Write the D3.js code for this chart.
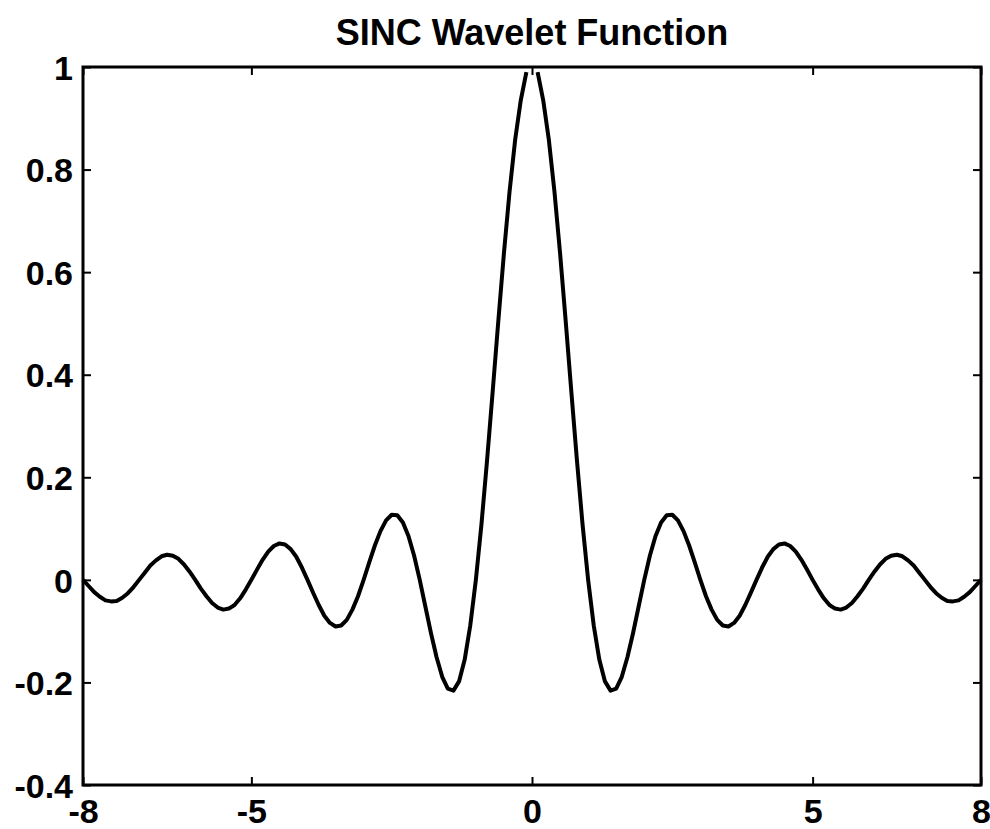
<!DOCTYPE html>
<html>

<head>
  <meta charset="utf-8">
  <script src="https://d3js.org/d3.v7.min.js"></script>
  <style>
    body { margin: 0; background: #fff; }
    text { font-family: "Liberation Sans", Arial, sans-serif; font-weight: bold; fill: #000; }
  </style>
</head>

<body>

  <div id="chart"></div>

  <script>
    const width = 990;
    const height = 829;
    const margin = { top: 67, right: 9, bottom: 44, left: 83 };

    const title = "SINC Wavelet Function";
    const xTicks = [-8, -5, 0, 5, 8];
    const yTicks = [-0.4, -0.2, 0, 0.2, 0.4, 0.6, 0.8, 1];

    // x runs from -8 to 8 in steps of 0.1 (gap at 0)
    const xStart = -8, xStep = 0.1;
    const yValues = [
      0, -0.012, -0.024, -0.033, -0.040, -0.042, -0.041, -0.035, -0.026, -0.014,
      0, 0.014, 0.028, 0.038, 0.046, 0.049, 0.047, 0.041, 0.030, 0.016,
      0, -0.017, -0.032, -0.045, -0.054, -0.058, -0.056, -0.049, -0.036, -0.019,
      0, 0.020, 0.039, 0.055, 0.066, 0.071, 0.069, 0.060, 0.045, 0.024,
      0, -0.025, -0.049, -0.070, -0.084, -0.091, -0.089, -0.078, -0.058, -0.032,
      0, 0.034, 0.067, 0.095, 0.116, 0.127, 0.126, 0.112, 0.085, 0.047,
      0, -0.052, -0.104, -0.151, -0.189, -0.212, -0.216, -0.198, -0.156, -0.089,
      0, 0.109, 0.234, 0.368, 0.505, 0.637, 0.757, 0.858, 0.935, 0.990,
      null,
      0.990, 0.935, 0.858, 0.757, 0.637, 0.505, 0.368, 0.234, 0.109, 0,
      -0.089, -0.156, -0.198, -0.216, -0.212, -0.189, -0.151, -0.104, -0.052, 0,
      0.047, 0.085, 0.112, 0.126, 0.127, 0.116, 0.095, 0.067, 0.034, 0,
      -0.032, -0.058, -0.078, -0.089, -0.091, -0.084, -0.070, -0.049, -0.025, 0,
      0.024, 0.045, 0.060, 0.069, 0.071, 0.066, 0.055, 0.039, 0.020, 0,
      -0.019, -0.036, -0.049, -0.056, -0.058, -0.054, -0.045, -0.032, -0.017, 0,
      0.016, 0.030, 0.041, 0.047, 0.049, 0.046, 0.038, 0.028, 0.014, 0,
      -0.014, -0.026, -0.035, -0.041, -0.042, -0.040, -0.033, -0.024, -0.012, 0
    ];

    const data = yValues.map((v, i) => ({ x: xStart + i * xStep, y: v }));

    const svg = d3.select("#chart")
      .append("svg")
      .attr("width", width)
      .attr("height", height);

    const x = d3.scaleLinear().domain([-8, 8]).range([margin.left, width - margin.right]);
    const y = d3.scaleLinear().domain([-0.4, 1]).range([height - margin.bottom, margin.top]);

    // plain hyphen for negatives, like the original
    const fmt = d => String(+d.toFixed(1));

    // title
    svg.append("text")
      .attr("x", (margin.left + width - margin.right) / 2)
      .attr("y", 45)
      .attr("text-anchor", "middle")
      .style("font-size", "36px")
      .text(title);

    // ticks on all four sides, pointing inward
    const tickLen = 8;
    const gx = svg.append("g")
      .attr("transform", "translate(0," + (height - margin.bottom) + ")")
      .call(d3.axisBottom(x).tickValues(xTicks).tickSizeInner(-tickLen).tickSizeOuter(0).tickPadding(14).tickFormat(fmt));
    svg.append("g")
      .attr("transform", "translate(0," + margin.top + ")")
      .call(d3.axisTop(x).tickValues(xTicks).tickSizeInner(-tickLen).tickSizeOuter(0).tickFormat(""));
    const gy = svg.append("g")
      .attr("transform", "translate(" + margin.left + ",0)")
      .call(d3.axisLeft(y).tickValues(yTicks).tickSizeInner(-tickLen).tickSizeOuter(0).tickPadding(10).tickFormat(fmt));
    svg.append("g")
      .attr("transform", "translate(" + (width - margin.right) + ",0)")
      .call(d3.axisRight(y).tickValues(yTicks).tickSizeInner(-tickLen).tickSizeOuter(0).tickFormat(""));

    svg.selectAll(".domain").remove();
    svg.selectAll(".tick line").attr("stroke", "#000").style("stroke-width", "2px");
    svg.selectAll(".tick text")
      .style("font-size", "34px")
      .style("font-family", "'Liberation Sans', Arial, sans-serif")
      .style("font-weight", "bold")
      .attr("fill", "#000");
    gy.selectAll(".tick text").attr("dy", "0.36em");
    gx.selectAll(".tick text").attr("dy", "0.71em");

    // frame
    svg.append("rect")
      .attr("x", margin.left)
      .attr("y", margin.top)
      .attr("width", width - margin.left - margin.right)
      .attr("height", height - margin.top - margin.bottom)
      .attr("fill", "none")
      .attr("stroke", "#000")
      .style("stroke-width", "3px");

    // curve
    const line = d3.line()
      .defined(d => d.y !== null)
      .x(d => x(d.x))
      .y(d => y(d.y));

    svg.append("path")
      .datum(data)
      .attr("d", line)
      .attr("fill", "none")
      .attr("stroke", "#000")
      .attr("stroke-linejoin", "round")
      .style("stroke-width", "4px");
  </script>
</body>

</html>
